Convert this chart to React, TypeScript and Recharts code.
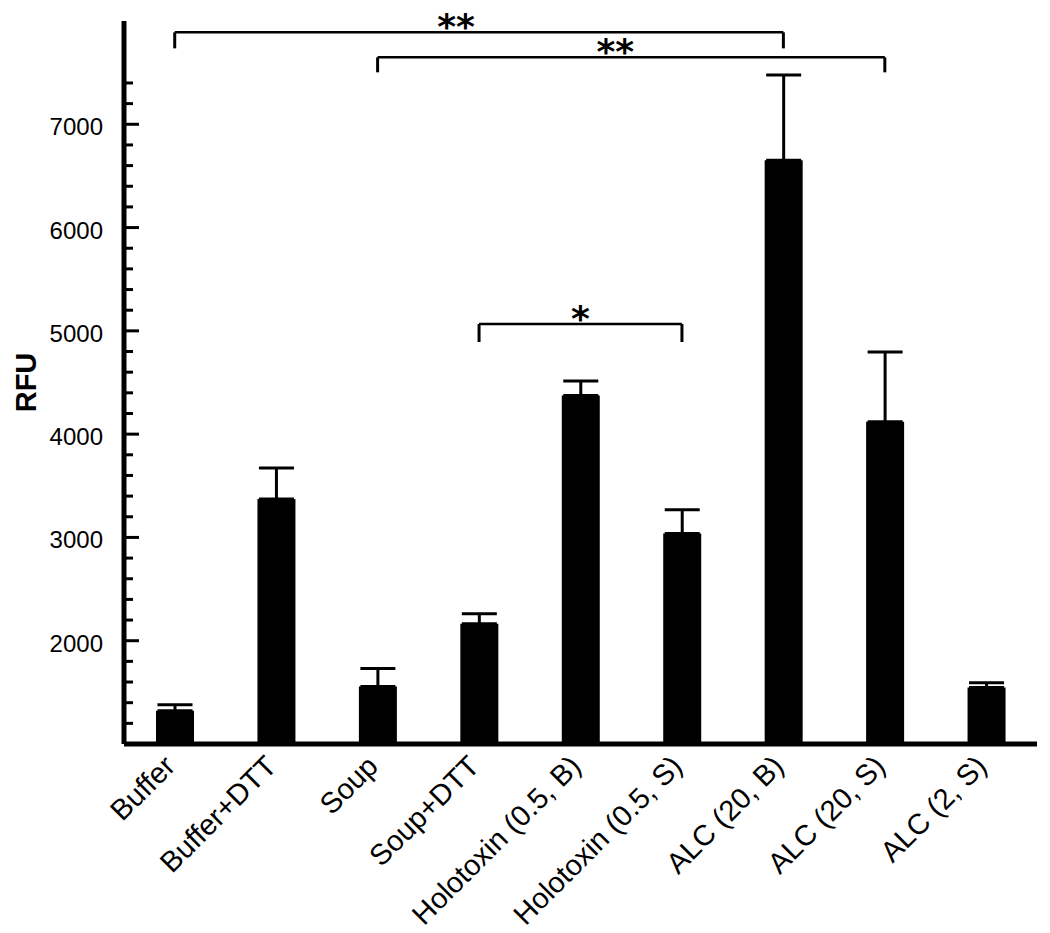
import React from 'react';
import { BarChart, Bar, XAxis, YAxis, ErrorBar, ReferenceLine } from 'recharts';

// values (RFU)
const categories = [
  'Buffer',
  'Buffer+DTT',
  'Soup',
  'Soup+DTT',
  'Holotoxin (0.5, B)',
  'Holotoxin (0.5, S)',
  'ALC (20, B)',
  'ALC (20, S)',
  'ALC (2, S)',
];
const means = [1323, 3373, 1557, 2165, 4375, 3038, 6653, 4119, 1547];
const errors = [58, 300, 174, 97, 140, 229, 823, 677, 45];

const yTicks = [1200, 1400, 1600, 1800, 2000, 2200, 2400, 2600, 2800, 3000, 3200, 3400, 3600, 3800, 4000, 4200, 4400, 4600, 4800, 5000, 5200, 5400, 5600, 5800, 6000, 6200, 6400, 6600, 6800, 7000, 7200, 7400];
const majorTicks = [2000, 3000, 4000, 5000, 6000, 7000];

// significance brackets: from, to, bar height, end height, label
const bracketFrom = ['Buffer', 'Soup', 'Soup+DTT'];
const bracketTo = ['ALC (20, B)', 'ALC (20, S)', 'Holotoxin (0.5, S)'];
const bracketTop = [7890, 7648, 5066];
const bracketEnd = [7735, 7503, 4892];
const bracketLabel = ['**', '**', '*'];

const data = categories.map((name, i) => ({
  name,
  rfu: means[i],
  err: [0, errors[i]],
}));

const FONT = '"Liberation Sans", Arial, Helvetica, sans-serif';
const MARGIN = { top: 21, right: 13, bottom: 159, left: 44 };
const Y_WIDTH = 80;
const PLOT_LEFT = MARGIN.left + Y_WIDTH;
const starShift = [-23, -16, 0];

function YTick(props: any) {
  const { y, payload } = props;
  const major = majorTicks.includes(payload.value);
  return (
    <g>
      <line x1={PLOT_LEFT} x2={PLOT_LEFT + (major ? 15 : 9)} y1={y} y2={y} stroke="#000" strokeWidth={3} />
      {major && (
        <text x={PLOT_LEFT - 21} y={y} dy={11} textAnchor="end" fontSize={24} fontFamily={FONT} fill="#000">
          {payload.value}
        </text>
      )}
    </g>
  );
}

function XTick(props: any) {
  const { x, y, payload } = props;
  const tx = x + 2;
  const ty = y + 16;
  return (
    <text
      x={tx}
      y={ty}
      transform={`rotate(-45, ${tx}, ${ty})`}
      textAnchor="end"
      fontSize={29}
      fontFamily={FONT}
      fill="#000"
    >
      {payload.value}
    </text>
  );
}

function starLabel(text: string, shift: number) {
  return (props: any) => {
    const vb = props.viewBox || {};
    const cx = vb.x + (vb.width || 0) / 2 + shift;
    return (
      <text x={cx} y={vb.y + 7} textAnchor="middle" fontSize={36} fontWeight="bold" fontFamily='"DejaVu Sans", sans-serif' fill="#000">
        {text}
      </text>
    );
  };
}

export default function App() {
  return (
    <div style={{ position: 'absolute', left: 0, top: 0, background: '#fff' }}>
      <BarChart width={1050} height={933} data={data} margin={MARGIN} barSize={38}>
        <XAxis
          dataKey="name"
          height={30}
          interval={0}
          tickLine={false}
          axisLine={{ stroke: '#000', strokeWidth: 5 }}
          tick={<XTick />}
        />
        <YAxis
          type="number"
          domain={[1000, 8000]}
          ticks={yTicks}
          interval={0}
          width={Y_WIDTH}
          tickLine={false}
          axisLine={{ stroke: '#000', strokeWidth: 5 }}
          tick={<YTick />}
          label={{
            value: 'RFU',
            angle: -90,
            position: 'insideLeft',
            offset: -18,
            style: { fontSize: 29, fontWeight: 'bold', fontFamily: FONT, fill: '#000', textAnchor: 'middle' },
          }}
        />
        <Bar dataKey="rfu" fill="#000" isAnimationActive={false}>
          <ErrorBar dataKey="err" width={17.5} stroke="#000" strokeWidth={3} isAnimationActive={false} />
        </Bar>
        {bracketFrom.map((from, i) => (
          <ReferenceLine
            key={`h${i}`}
            segment={[{ x: from, y: bracketTop[i] }, { x: bracketTo[i], y: bracketTop[i] }]}
            stroke="#000"
            strokeWidth={2.5}
            ifOverflow="visible"
            label={starLabel(bracketLabel[i], starShift[i])}
          />
        ))}
        {bracketFrom.map((from, i) => (
          <ReferenceLine
            key={`l${i}`}
            segment={[{ x: from, y: bracketTop[i] }, { x: from, y: bracketEnd[i] }]}
            stroke="#000"
            strokeWidth={3}
            ifOverflow="visible"
          />
        ))}
        {bracketTo.map((to, i) => (
          <ReferenceLine
            key={`r${i}`}
            segment={[{ x: to, y: bracketTop[i] }, { x: to, y: bracketEnd[i] }]}
            stroke="#000"
            strokeWidth={3}
            ifOverflow="visible"
          />
        ))}
      </BarChart>
    </div>
  );
}
